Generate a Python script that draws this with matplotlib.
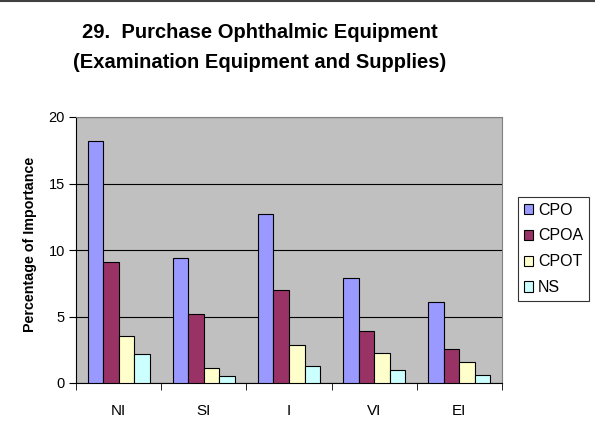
import matplotlib.pyplot as plt
import numpy as np

# data
categories = ['NI', 'SI', 'I', 'VI', 'EI']
cpo = [18.2, 9.4, 12.7, 7.9, 6.1]
cpoa = [9.1, 5.2, 7.0, 3.9, 2.55]
cpot = [3.5, 1.1, 2.85, 2.25, 1.6]
ns = [2.15, 0.55, 1.3, 1.0, 0.62]
series_names = ['CPO', 'CPOA', 'CPOT', 'NS']

plt.rcParams['font.family'] = ['Liberation Sans', 'DejaVu Sans']

fig = plt.figure(figsize=(5.95, 4.34), dpi=100)
ax = fig.add_axes([76 / 595, 1 - 383 / 434, 426 / 595, 266 / 434])
ax.set_facecolor('#C0C0C0')

x = np.arange(len(categories))
w = 0.182
colors = ['#9999FF', '#993366', '#FFFFCC', '#CCFFFF']
for i, (vals, name) in enumerate(zip([cpo, cpoa, cpot, ns], series_names)):
    ax.bar(x - 1.5 * w + i * w, vals, w, color=colors[i], edgecolor='black',
           linewidth=0.8, label=name, zorder=3)

ax.set_xlim(-0.5, 4.5)
ax.set_ylim(0, 20)
ax.set_yticks([0, 5, 10, 15, 20])
ax.yaxis.grid(True, color='black', linewidth=0.8, zorder=1)
ax.set_axisbelow(True)

ax.set_xticks(x)
ax.set_xticklabels(categories, fontsize=11)
ax.tick_params(axis='x', length=0, pad=15)
ax.set_xticks(np.arange(-0.5, 5, 1), minor=True)
ax.tick_params(axis='x', which='minor', length=5, color='black', direction='out')
ax.tick_params(axis='y', length=5, labelsize=10.5, direction='out', pad=3)

for s in ['top', 'right']:
    ax.spines[s].set_color('#808080')
for s in ['left', 'bottom']:
    ax.spines[s].set_color('black')

ax.set_ylabel('Percentage of Importance', fontsize=10.3, fontweight='bold')
ax.yaxis.set_label_coords(-0.092, 0.52)

fig.text(260 / 595, 1 - 32 / 434, '29.  Purchase Ophthalmic Equipment',
         ha='center', va='center', fontsize=14.5, fontweight='bold')
fig.text(260 / 595, 1 - 63 / 434, '(Examination Equipment and Supplies)',
         ha='center', va='center', fontsize=14.5, fontweight='bold')

leg = fig.legend(loc='upper left', bbox_to_anchor=(518 / 595, 1 - 197 / 434),
                 fontsize=11.5, frameon=True, fancybox=False, edgecolor='black',
                 handlelength=0.6, handleheight=0.6, handletextpad=0.3,
                 borderpad=0.35, labelspacing=0.68, borderaxespad=0)
leg.get_frame().set_linewidth(0.8)

fig.add_artist(plt.Line2D([0, 1], [1 - 1 / 434, 1 - 1 / 434], color='#404040',
                          linewidth=1.5, transform=fig.transFigure))

fig.savefig('out.png', dpi=100)
